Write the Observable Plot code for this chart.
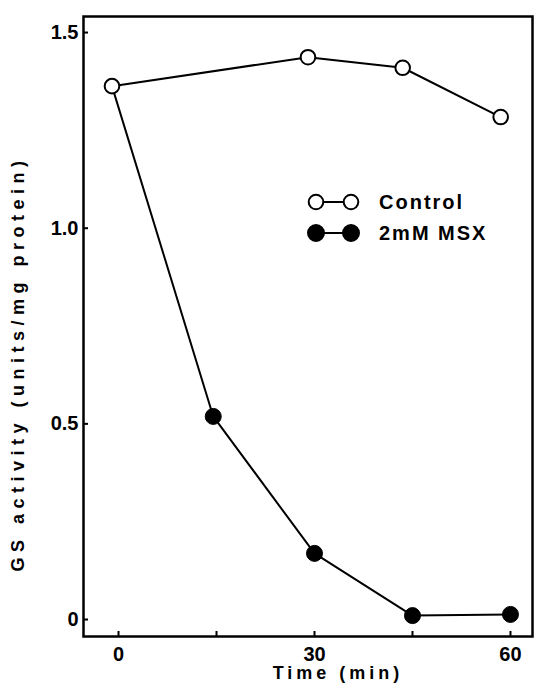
<!DOCTYPE html>
<html><head><meta charset="utf-8">
<script src="https://cdn.jsdelivr.net/npm/d3@7"></script>
<script src="https://cdn.jsdelivr.net/npm/@observablehq/plot@0.6"></script>
<style>
body{margin:0;background:#fff;}
#chart svg{font-family:"Liberation Sans",Arial,sans-serif;}
</style>
</head><body><div id="chart"></div>
<script>
const series = ["Control", "2mM MSX"];
const controlTime = [-1, 29, 43.5, 58.5];
const controlValue = [1.363, 1.437, 1.41, 1.284];
const msxTime = [-1, 14.5, 30, 45, 60];
const msxValue = [1.363, 0.519, 0.169, 0.01, 0.013];
const xTicks = [0, 15, 30, 45, 60];
const xTickLabels = ["0", "", "30", "", "60"];
const yTicks = [0, 0.5, 1.0, 1.5];
const yTickLabels = ["0", "0.5", "1.0", "1.5"];
const xLabel = "Time (min)";
const yLabel = "GS activity (units/mg protein)";

const control = controlTime.map((t, i) => ({t, v: controlValue[i]}));
const msx = msxTime.map((t, i) => ({t, v: msxValue[i]}));

const plot = Plot.plot({
  width: 539,
  height: 692,
  marginLeft: 83,
  marginRight: 7,
  marginTop: 16,
  marginBottom: 56,
  x: {domain: [-5.36, 63.37]},
  y: {domain: [-0.0434, 1.541]},
  style: {fontFamily: "Liberation Sans, Arial, sans-serif", color: "#000", background: "#fff"},
  marks: [
    Plot.frame({stroke: "#000", strokeWidth: 2.5}),
    Plot.axisX({ticks: xTicks, tickFormat: (d) => xTickLabels[xTicks.indexOf(d)], tickSize: -5, tickPadding: 15,
      fontSize: 20, fontWeight: "bold", strokeWidth: 2, label: null}),
    Plot.axisY({ticks: yTicks, tickFormat: (d) => yTickLabels[yTicks.indexOf(d)], tickSize: -5, tickPadding: 10,
      fontSize: 20, fontWeight: "bold", strokeWidth: 2, label: null}),
    Plot.text([xLabel], {frameAnchor: "bottom", textAnchor: "middle", lineAnchor: "middle", dx: 30, dy: 37, fontSize: 18, fontWeight: "bold", fill: "#000"}),
    Plot.text([yLabel], {frameAnchor: "left", textAnchor: "middle", lineAnchor: "middle", dx: -65, dy: 37, rotate: -90, fontSize: 18, fontWeight: "bold", fill: "#000"}),
    Plot.line(msx, {x: "t", y: "v", stroke: "#000", strokeWidth: 2}),
    Plot.line(control, {x: "t", y: "v", stroke: "#000", strokeWidth: 2}),
    Plot.dot(msx.slice(1), {x: "t", y: "v", r: 8, fill: "#000", stroke: "#000", strokeWidth: 1}),
    Plot.dot(control, {x: "t", y: "v", r: 7.3, fill: "#fff", stroke: "#000", strokeWidth: 2})
  ]
});
document.getElementById("chart").appendChild(plot);

const svg = d3.select(plot);
svg.selectAll("text").filter(function() { return this.textContent === yLabel; }).style("letter-spacing", "5.5px");
svg.selectAll("text").filter(function() { return this.textContent === xLabel; }).style("letter-spacing", "4px");

// legend inside the frame
const leg = svg.append("g").attr("class", "leg");
const legRows = [{y: 202, fill: "#fff", r: 7.3}, {y: 233, fill: "#000", r: 8}];
series.forEach((name, i) => {
  const row = legRows[i];
  const g = leg.append("g");
  g.append("line").attr("x1", 316).attr("x2", 351).attr("y1", row.y).attr("y2", row.y)
    .attr("stroke", "#000").attr("stroke-width", 2);
  [316, 351].forEach(cx => g.append("circle").attr("cx", cx).attr("cy", row.y).attr("r", row.r)
    .attr("fill", row.fill).attr("stroke", "#000").attr("stroke-width", 2));
  g.append("text").attr("x", 379).attr("y", row.y).attr("dy", "0.35em")
    .attr("text-anchor", "start").style("letter-spacing", "2px")
    .attr("font-size", 20).attr("font-weight", "bold").attr("fill", "#000").text(name);
});
</script>
</body></html>
